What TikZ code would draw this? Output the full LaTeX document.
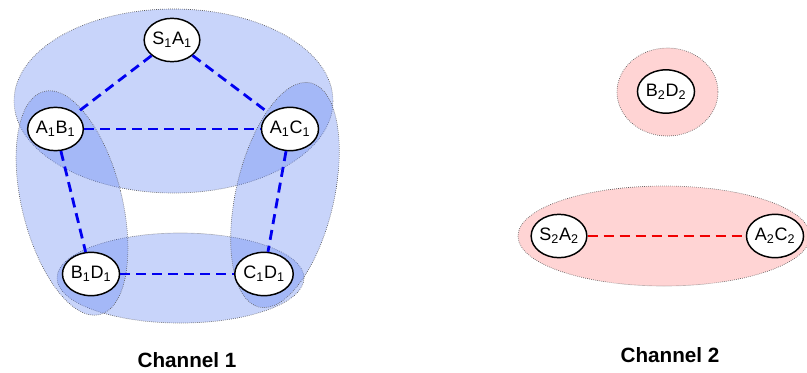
\documentclass[tikz,border=0pt]{standalone}
\usepackage{fontspec}
\setmainfont{Liberation Sans}
\usetikzlibrary{shapes.geometric}
\definecolor{blueF}{RGB}{102,135,241}
\definecolor{pinkF}{RGB}{255,212,212}
\definecolor{edgeBlue}{RGB}{0,0,240}
\definecolor{edgeRed}{RGB}{240,0,0}
\tikzset{
  vnode/.style={ellipse, draw=black, line width=1.1pt, fill=white,
    minimum width=41pt, minimum height=32.5pt, inner sep=0pt,
    font=\fontsize{13.5pt}{15pt}\selectfont},
  hullblue/.style={fill=blueF, fill opacity=0.36, draw=black!65, draw opacity=1,
    line width=0.5pt, densely dotted},
  hullpink/.style={fill=pinkF, draw=black!65, line width=0.5pt, densely dotted},
  bluelink/.style={draw=edgeBlue, line width=2.1pt, dash pattern=on 7.5pt off 4.5pt},
  redlink/.style={draw=edgeRed, line width=2.1pt, dash pattern=on 7.5pt off 4.5pt},
  chanlabel/.style={font=\fontsize{15.5pt}{18pt}\selectfont\bfseries}
}
\begin{document}
\begin{tikzpicture}[x=0.75pt, y=-0.75pt]
\useasboundingbox (0,0) rectangle (807,372);
% Channel 1 hulls
\path[hullblue] (173.5,101) ellipse [x radius=159.5, y radius=92];
\path[hullblue] (180.5,278) ellipse [x radius=123.5, y radius=45];
\path[hullblue, rotate around={14:(72,203)}] (72,203) ellipse [x radius=50, y radius=115];
\path[hullblue, rotate around={-13:(285,195)}] (285,195) ellipse [x radius=49, y radius=115];
% Channel 2 hulls
\path[hullpink] (667.5,92) ellipse [x radius=50.5, y radius=44];
\path[hullpink] (664,236) ellipse [x radius=146, y radius=50];
% nodes
\node[vnode] (s1a1) at (172,40) {S\textsubscript{1}A\textsubscript{1}};
\node[vnode] (a1b1) at (55.5,129) {A\textsubscript{1}B\textsubscript{1}};
\node[vnode] (a1c1) at (290,129) {A\textsubscript{1}C\textsubscript{1}};
\node[vnode] (b1d1) at (91,274) {B\textsubscript{1}D\textsubscript{1}};
\node[vnode] (c1d1) at (264,274) {C\textsubscript{1}D\textsubscript{1}};
\node[vnode] (b2d2) at (666,91.5) {B\textsubscript{2}D\textsubscript{2}};
\node[vnode] (s2a2) at (559,236) {S\textsubscript{2}A\textsubscript{2}};
\node[vnode] (a2c2) at (775,236) {A\textsubscript{2}C\textsubscript{2}};
% links
\draw[bluelink] (s1a1) -- (a1b1);
\draw[bluelink] (s1a1) -- (a1c1);
\draw[bluelink] (a1b1) -- (a1c1);
\draw[bluelink] (a1b1) -- (b1d1);
\draw[bluelink] (a1c1) -- (c1d1);
\draw[bluelink] (b1d1) -- (c1d1);
\draw[redlink] (s2a2) -- (a2c2);
% labels
\node[chanlabel] (ch1) at (187,360) {Channel 1};
\node[chanlabel] (ch2) at (670,355) {Channel 2};
\end{tikzpicture}
\end{document}
